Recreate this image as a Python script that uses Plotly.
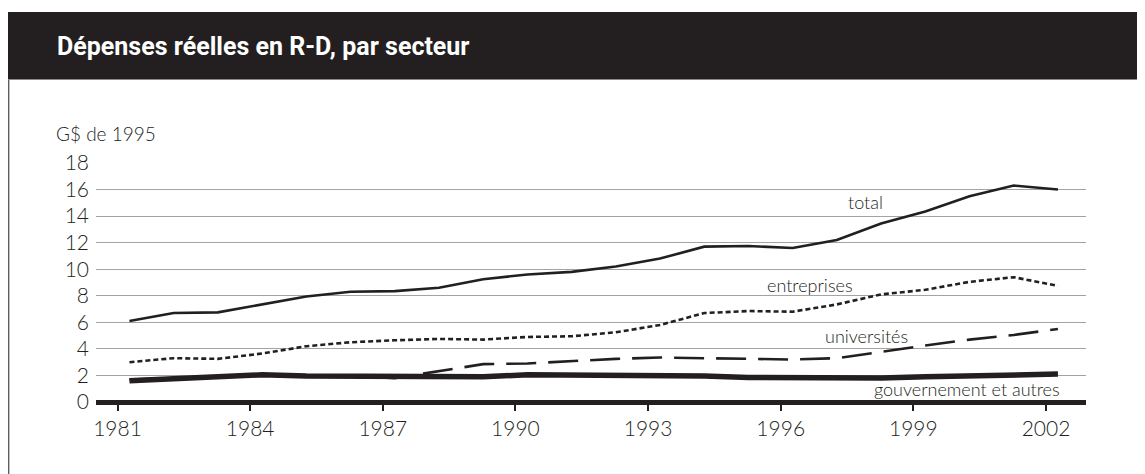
import plotly.graph_objects as go

# ---- data (G$ de 1995) ----
years = list(range(1981, 2003))
total = [6.1, 6.7, 6.75, 7.35, 7.95, 8.3, 8.35, 8.6, 9.25, 9.6, 9.8, 10.2,
         10.8, 11.7, 11.75, 11.6, 12.2, 13.45, 14.35, 15.5, 16.3, 16.0]
entreprises = [3.0, 3.3, 3.25, 3.65, 4.2, 4.5, 4.65, 4.75, 4.7, 4.9, 4.95, 5.25,
               5.8, 6.7, 6.85, 6.8, 7.35, 8.1, 8.45, 9.05, 9.4, 8.75]
universites = [1.7, 1.8, 1.9, 2.0, 1.95, 1.95, 1.8, 2.35, 2.85, 2.9, 3.1, 3.25,
               3.35, 3.3, 3.25, 3.2, 3.3, 3.8, 4.25, 4.7, 5.05, 5.5]
gouvernement = [1.6, 1.75, 1.85, 2.05, 1.95, 1.95, 1.95, 1.85, 1.9, 2.05, 2.05, 1.95,
                1.95, 1.95, 1.85, 1.85, 1.75, 1.8, 1.9, 2.0, 2.1, 2.1]
series_names = ["total", "entreprises", "universités", "gouvernement et autres"]
tick_years = [1981, 1984, 1987, 1990, 1993, 1996, 1999, 2002]
y_ticks = list(range(0, 20, 2))

# ---- styling / layout ----
INK = "#231f20"
TXT = "#231f20"
OFF = 8                      # page body margin
W, H = 1145 - OFF, 474 - OFF
PL, PR, PT, PB = 96, 1086, 163, 402   # plot area in page pixels
L, R, T, B = PL - OFF, W - (PR - OFF), PT - OFF, H - (PB - OFF)
pw, ph = W - L - R, H - T - B
TICK_SHIFT = 0.27  # ticks sit slightly left of the yearly data points
LIGHT = dict(family="Lato, Open Sans, sans-serif", color=TXT, weight=300)


def px_x(p):
    return (p - PL) / pw


def px_y(q):
    return (PB - q) / ph


fig = go.Figure()
styles = [
    dict(width=2.6, dash="solid"),
    dict(width=2.6, dash="5px,3px"),
    dict(width=2.6, dash="30px,12px"),
    dict(width=5.5, dash="solid"),
]
for name, vals, st in zip(series_names, [total, entreprises, universites, gouvernement], styles):
    fig.add_trace(go.Scatter(x=years, y=vals, mode="lines", name=name,
                             line=dict(color=INK, width=st["width"], dash=st["dash"]),
                             showlegend=False, hoverinfo="skip"))

label_px = [(865, 202), (810, 285), (866, 336), (967, 389)]
for name, (lx, ly) in zip(series_names, label_px):
    fig.add_annotation(xref="paper", yref="paper", x=px_x(lx), y=px_y(ly), text=name,
                       showarrow=False, xanchor="center", yanchor="middle",
                       font=dict(size=18, **LIGHT))

# header band, border lines
fig.add_shape(type="rect", xref="paper", yref="paper", x0=px_x(OFF), x1=px_x(1150),
              y0=px_y(79), y1=px_y(12), fillcolor=INK, line=dict(width=0), layer="above")
fig.add_shape(type="line", xref="paper", yref="paper", x0=px_x(OFF), x1=px_x(1150),
              y0=px_y(79.5), y1=px_y(79.5), line=dict(color="#8a8a8a", width=1.2))
fig.add_shape(type="line", xref="paper", yref="paper", x0=px_x(OFF + 0.7), x1=px_x(OFF + 0.7),
              y0=px_y(80), y1=px_y(480), line=dict(color="#555555", width=1.3))

fig.add_annotation(xref="paper", yref="paper", x=px_x(55), y=px_y(46), xanchor="left", yanchor="middle",
                   text="<b>Dépenses réelles en R-D, par secteur</b>", showarrow=False,
                   font=dict(family="Roboto, sans-serif", size=25, color="white"))
fig.add_annotation(xref="paper", yref="paper", x=px_x(54), y=px_y(133), xanchor="left", yanchor="middle",
                   text="G$ de 1995", showarrow=False, font=dict(size=19, **LIGHT))

x0 = tick_years[0] - TICK_SHIFT - 21.5 / 44.21
x1 = tick_years[-1] - TICK_SHIFT + 40 / 44.21
fig.update_layout(
    width=W, height=H,
    margin=dict(l=L, r=R, t=T, b=B, pad=0),
    paper_bgcolor="white", plot_bgcolor="white",
    font=dict(size=20, **LIGHT),
    xaxis=dict(range=[x0, x1], tickvals=[y - TICK_SHIFT for y in tick_years],
               ticktext=[str(y) for y in tick_years], showgrid=False, zeroline=False,
               ticks="outside", ticklen=8, tickwidth=1.5, tickcolor=INK, showline=False,
               tickfont=dict(size=21, **LIGHT)),
    yaxis=dict(range=[0, 18], tickvals=y_ticks, showgrid=True, gridcolor="#a3a3a3", gridwidth=1.3,
               zeroline=True, zerolinecolor=INK, zerolinewidth=4.5, ticks="", showline=False,
               tickfont=dict(size=21, **LIGHT), ticklabelstandoff=6),
)

fig.write_html("out.html")
